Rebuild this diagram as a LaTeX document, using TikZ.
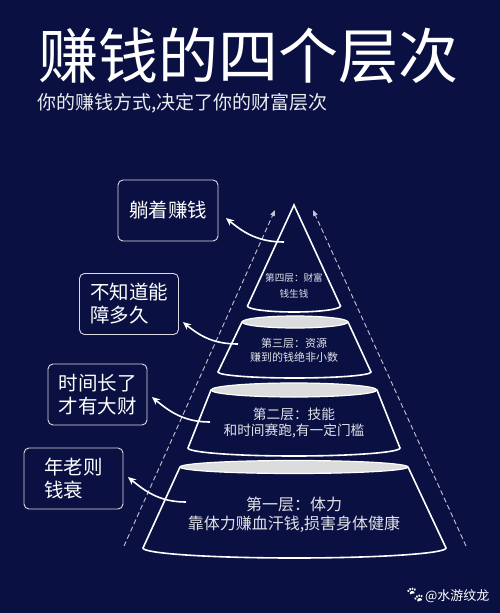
\documentclass[tikz,border=0pt]{standalone}
\usepackage{fontspec}
\setmainfont{Noto Sans CJK SC}
\newfontfamily\emojifont{Noto Emoji}
\usetikzlibrary{arrows.meta}
\definecolor{navy}{HTML}{0A1142}
\definecolor{rim}{HTML}{DCDCDC}
\begin{document}
\begin{tikzpicture}[x=1pt,y=1pt,
    tier/.style={draw=white,line width=1.6pt,fill=navy},
    lid/.style={draw=white,line width=1.2pt,fill=rim},
    note/.style={draw=white!85!navy,line width=0.9pt,rounded corners=5pt,align=left,
      minimum width=99pt,minimum height=61pt,text=white,font=\fontsize{19.5}{23}\selectfont},
    caption/.style={align=center,text=white!88!navy},
    guide/.style={draw=white!75!navy,line width=0.9pt,dash pattern=on 5pt off 3pt,
      -{Triangle[length=6pt,width=4.5pt]}},
    pointer/.style={draw=white,line width=1.6pt,-{Stealth[length=8pt,width=7pt]}}]
  \fill[navy] (0,0) rectangle (500,-613);
  \useasboundingbox (0,0) rectangle (500,-613);
  \node[text=white,font=\fontsize{60}{60}\selectfont] (title) at (248.5,-56) {赚钱的四个层次};
  \node[anchor=west,text=white!92!navy,font=\fontsize{19}{19}\selectfont] (subtitle) at (34,-103)
    {你的赚钱方式,决定了你的财富层次};
  \coordinate (gl0) at (124,-546);
  \coordinate (gl1) at (275,-210);
  \coordinate (gr0) at (466,-546);
  \coordinate (gr1) at (313,-210);
  \draw[guide] (gl0) -- (gl1);
  \draw[guide] (gr0) -- (gr1);
  \draw[tier] (294,-205) -- (247.5,-306)
    arc[start angle=180,end angle=360,x radius=46.5pt,y radius=6pt] -- cycle;
  \draw[tier] (242,-322) -- (218,-372)
    arc[start angle=180,end angle=360,x radius=76.5pt,y radius=6pt] -- (348,-322);
  \draw[lid] (295,-322) ellipse[x radius=53pt,y radius=6pt];
  \draw[tier] (211,-390) -- (188,-448)
    arc[start angle=180,end angle=360,x radius=106pt,y radius=8pt] -- (377,-390);
  \draw[lid] (294,-390) ellipse[x radius=83pt,y radius=7pt];
  \draw[tier] (180,-467) -- (143,-548)
    arc[start angle=180,end angle=360,x radius=151.5pt,y radius=10pt] -- (408,-467);
  \draw[lid] (294,-467) ellipse[x radius=114pt,y radius=6.5pt];
  \node[caption,font=\fontsize{9.6}{16}\selectfont] (t4) at (294,-286) {第四层：财富\\钱生钱};
  \node[caption,font=\fontsize{11}{14}\selectfont] (t3) at (294,-350) {第三层：资源\\赚到的钱绝非小数};
  \node[caption,font=\fontsize{13.7}{16}\selectfont] (t2) at (294,-423) {第二层：技能\\和时间赛跑,有一定门槛};
  \node[caption,font=\fontsize{16}{19}\selectfont] (t1) at (294,-514.5) {第一层：体力\\靠体力赚血汗钱,损害身体健康};
  \node[note,align=center,minimum width=100pt] (n4) at (168,-210.5) {躺着赚钱};
  \node[note] (n3) at (129,-304) {不知道能\\障多久};
  \node[note] (n2) at (97.5,-394.5) {时间长了\\才有大财};
  \node[note] (n1) at (73.5,-478.5) {年老则\\钱衰};
  \coordinate (s4) at (284,-242);
  \coordinate (e4) at (226,-218);
  \coordinate (s3) at (238,-344);
  \coordinate (e3) at (183,-322);
  \coordinate (s2) at (210,-422);
  \coordinate (e2) at (152,-397);
  \coordinate (s1) at (186,-502);
  \coordinate (e1) at (128,-477);
  \draw[pointer] (s4) to[out=180,in=-40] (e4);
  \draw[pointer] (s3) to[out=180,in=-40] (e3);
  \draw[pointer] (s2) to[out=180,in=-40] (e2);
  \draw[pointer] (s1) to[out=180,in=-40] (e1);
  \node[anchor=east,text=white,font=\fontsize{13}{13}\selectfont] (mark) at (493,-595)
    {{\emojifont\fontsize{16}{16}\selectfont 🐾}@水游纹龙};
\end{tikzpicture}
\end{document}
